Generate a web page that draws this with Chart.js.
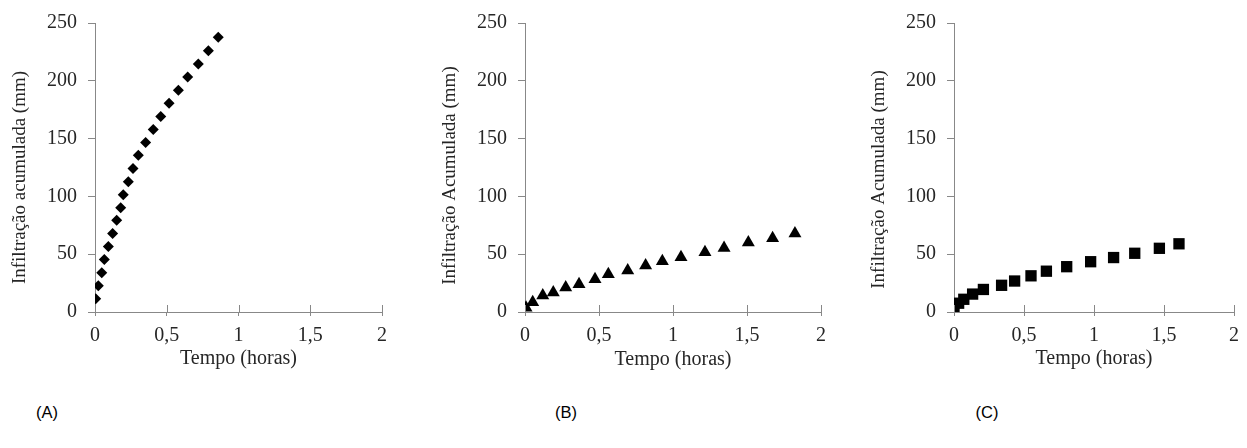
<!DOCTYPE html>
<html>
<head>
<meta charset="utf-8">
<script src="https://cdn.jsdelivr.net/npm/chart.js@4/dist/chart.umd.min.js"></script>
<style>
  body { margin: 0; background: #fff; width: 1247px; height: 448px; position: relative; overflow: hidden; }
  .panel { position: absolute; top: 0; height: 385px; }
  .tag { position: absolute; top: 403px; font: 16.5px "Liberation Sans", Arial, sans-serif; color: #000; transform: translateX(-50%); }
</style>
</head>
<body>
<div class="panel" style="left:0;width:400px"><canvas id="chartA"></canvas></div>
<div class="panel" style="left:420px;width:420px"><canvas id="chartB"></canvas></div>
<div class="panel" style="left:860px;width:387px"><canvas id="chartC"></canvas></div>
<div class="tag" style="left:47px">(A)</div>
<div class="tag" style="left:566px">(B)</div>
<div class="tag" style="left:987px">(C)</div>
<script>
// tempo (horas) e infiltracao acumulada (mm)
const tempoA = [0.005, 0.023, 0.047, 0.065, 0.093, 0.123, 0.151, 0.179, 0.197, 0.232, 0.265,
                0.302, 0.353, 0.406, 0.458, 0.516, 0.581, 0.646, 0.720, 0.790, 0.859];
const infA = [11.4, 22.7, 34.0, 45.4, 56.7, 68.0, 79.4, 90.1, 101.5, 112.6, 124.2,
              135.5, 146.6, 157.9, 169.2, 180.6, 191.9, 203.3, 214.6, 225.9, 237.6];

const tempoB = [0.007, 0.052, 0.12, 0.191, 0.275, 0.365, 0.473, 0.563, 0.694, 0.815,
                0.928, 1.054, 1.216, 1.345, 1.509, 1.673, 1.824];
const infB = [3.7, 8.5, 14.2, 16.8, 21.3, 24.1, 28.4, 32.6, 36.0, 40.3,
              44.0, 47.4, 51.6, 55.3, 60.1, 63.8, 68.0];

const tempoC = [0.0, 0.033, 0.07, 0.133, 0.21, 0.34, 0.433, 0.55, 0.66, 0.805,
                0.976, 1.14, 1.291, 1.467, 1.607];
const infC = [3.4, 7.6, 11.0, 15.5, 19.5, 23.1, 26.8, 31.3, 35.3, 39.2,
              43.5, 47.1, 50.8, 55.1, 59.0];

const xTicks = [0, 0.5, 1, 1.5, 2];
const yTicks = [0, 50, 100, 150, 200, 250];

const axisColor = '#888888';
const textColor = '#262626';
const serif = '"Liberation Serif", "Times New Roman", serif';

// ticks do eixo x cruzam a linha do eixo (parte interna)
const innerTicks = {
    id: 'innerTicks',
    afterDraw(chart) {
        const x = chart.scales.x;
        const ctx = chart.ctx;
        ctx.save();
        ctx.strokeStyle = axisColor;
        ctx.lineWidth = 1;
        x.ticks.forEach(t => {
            const px = Math.round(x.getPixelForValue(t.value)) + 0.5;
            ctx.beginPath();
            ctx.moveTo(px, x.top - 7);
            ctx.lineTo(px, x.top);
            ctx.stroke();
        });
        ctx.restore();
    }
};

// titulo do eixo y, um pouco abaixo do centro como no original
const yTitle = {
    id: 'yTitle',
    afterDraw(chart, args, opts) {
        const area = chart.chartArea;
        const ctx = chart.ctx;
        ctx.save();
        ctx.translate(opts.x, (area.top + area.bottom) / 2 + opts.shift);
        ctx.rotate(-Math.PI / 2);
        ctx.fillStyle = textColor;
        ctx.font = '19px ' + serif;
        ctx.textAlign = 'center';
        ctx.textBaseline = 'middle';
        ctx.fillText(opts.text, 0, 0);
        ctx.restore();
    }
};

function makeChart(id, xs, ys, title, style, radius, box) {
    const points = xs.map((v, i) => ({ x: v, y: ys[i] }));
    const w = box.width, h = box.height;
    return new Chart(document.getElementById(id), {
        type: 'scatter',
        data: {
            datasets: [{
                data: points,
                pointStyle: style,
                pointRadius: radius,
                pointBackgroundColor: '#000',
                pointBorderColor: '#000',
                pointBorderWidth: 0
            }]
        },
        options: {
            responsive: true,
            maintainAspectRatio: false,
            animation: false,
            layout: { padding: { left: 0, right: w - box.right, top: box.top, bottom: 0 } },
            plugins: {
                legend: { display: false },
                tooltip: { enabled: false },
                yTitle: { text: title, x: box.yTitleX, shift: box.yTitleShift }
            },
            scales: {
                x: {
                    type: 'linear',
                    min: 0, max: 2,
                    afterBuildTicks: s => { s.ticks = xTicks.map(v => ({ value: v })); },
                    afterFit: s => { s.height = h - box.bottom; },
                    grid: { drawOnChartArea: false, color: axisColor, tickLength: 4 },
                    border: { color: axisColor, width: 1 },
                    ticks: {
                        color: textColor,
                        font: { family: serif, size: 20 },
                        padding: 8,
                        maxRotation: 0,
                        callback: v => String(v).replace('.', ',')
                    },
                    title: {
                        display: true,
                        text: 'Tempo (horas)',
                        color: textColor,
                        font: { family: serif, size: 20 },
                        padding: { top: 0, bottom: box.xTitlePad }
                    }
                },
                y: {
                    min: 0, max: 250,
                    afterBuildTicks: s => { s.ticks = yTicks.map(v => ({ value: v })); },
                    afterFit: s => { s.width = box.left; },
                    grid: { drawOnChartArea: false, color: axisColor, tickLength: 7 },
                    border: { color: axisColor, width: 1 },
                    ticks: {
                        color: textColor,
                        font: { family: serif, size: 20 },
                        padding: 11
                    }
                }
            }
        },
        plugins: [innerTicks, yTitle]
    });
}

makeChart('chartA', tempoA, infA, 'Infiltração acumulada (mm)', 'rectRot', 5.5,
    { width: 400, height: 385, left: 95, right: 382, top: 18, bottom: 312,
      xTitlePad: 14, yTitleX: 20, yTitleShift: 10 });
makeChart('chartB', tempoB, infB, 'Infiltração Acumulada (mm)', 'triangle', 7.5,
    { width: 420, height: 385, left: 105, right: 401, top: 18, bottom: 312,
      xTitlePad: 13, yTitleX: 30, yTitleShift: 8 });
makeChart('chartC', tempoC, infC, 'Infiltração Acumulada (mm)', 'rect', 8,
    { width: 387, height: 385, left: 94, right: 379, top: 17, bottom: 312,
      xTitlePad: 14, yTitleX: 19, yTitleShift: 12 });
</script>
</body>
</html>
